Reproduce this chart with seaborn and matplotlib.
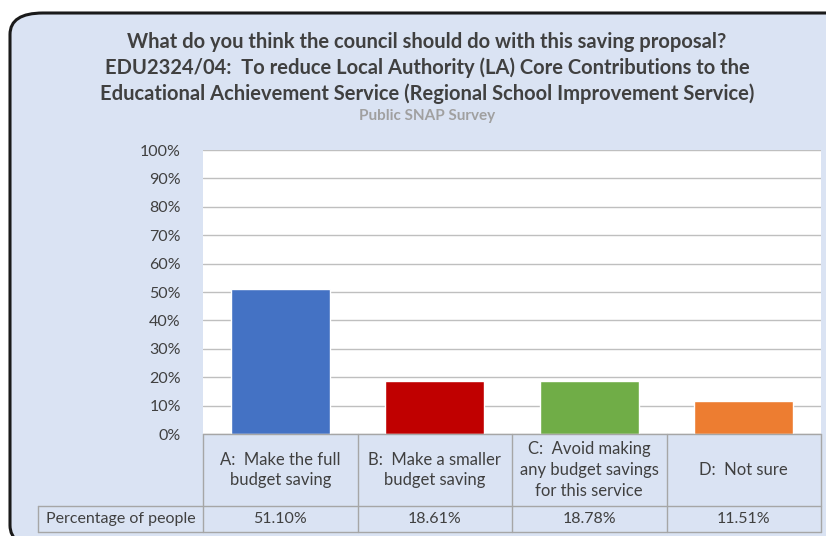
import matplotlib.pyplot as plt
import seaborn as sns
from matplotlib.patches import FancyBboxPatch
from matplotlib.lines import Line2D

plt.switch_backend('Agg')

# Chart data
categories = ["A:  Make the full\nbudget saving",
              "B:  Make a smaller\nbudget saving",
              "C:  Avoid making\nany budget savings\nfor this service",
              "D:  Not sure"]
values = [51.10, 18.61, 18.78, 11.51]
bar_colors = ['#4472C4', '#C00000', '#70AD47', '#ED7D31']
row_label = "Percentage of people"
y_ticks = [0, 10, 20, 30, 40, 50, 60, 70, 80, 90, 100]

title_lines = ("What do you think the council should do with this saving proposal?\n"
               "EDU2324/04:  To reduce Local Authority (LA) Core Contributions to the\n"
               "Educational Achievement Service (Regional School Improvement Service)")
subtitle = "Public SNAP Survey"

sns.set_theme(style="white")
plt.rcParams['font.family'] = ['Lato', 'DejaVu Sans']

W, H = 826, 536
BG = '#DAE3F3'
TXT = '#404040'
LINE = '#A6A6A6'

fig = plt.figure(figsize=(W / 100, H / 100), dpi=100)
fig.patch.set_facecolor('white')

# rounded frame, cropped on the right and bottom like the screenshot
frame = FancyBboxPatch((10 / W, -0.02), 1.05, 1 - 13 / H + 0.02,
                       boxstyle="round,pad=0,rounding_size=0.04",
                       transform=fig.transFigure, facecolor=BG,
                       edgecolor='#1a1a1a', linewidth=2.2, zorder=0)
fig.add_artist(frame)

def fx(px):
    return px / W

def fy(py):
    return 1 - py / H

# plot area
left, right, top, bottom = 203, 821, 150, 434
ax = fig.add_axes([fx(left), fy(bottom), fx(right) - fx(left), fy(top) - fy(bottom)])
ax.set_facecolor('white')

sns.barplot(x=list(range(len(values))), y=values, hue=list(range(len(values))),
            palette=bar_colors, legend=False, width=0.64, saturation=1,
            ax=ax, zorder=3)

ax.set_xlim(-0.5, len(values) - 0.5)
ax.set_ylim(0, 100)
ax.set_yticks(y_ticks)
ax.set_yticklabels([f"{t}%" for t in y_ticks], fontsize=11.5, color=TXT)
ax.tick_params(axis='y', length=0, pad=16)
ax.set_xticks([])
ax.set_xlabel('')
ax.set_ylabel('')
for t in y_ticks:
    ax.axhline(t, color='#BFBFBF', linewidth=1, zorder=1)
for s in ax.spines.values():
    s.set_visible(False)

# data table below the plot
row1_bottom, row2_bottom, table_left = 506, 532, 38
col_w = (right - left) / len(values)
line_kw = dict(color=LINE, linewidth=1, transform=fig.transFigure)
fig.add_artist(Line2D([fx(left), fx(right)], [fy(bottom), fy(bottom)], **line_kw))
fig.add_artist(Line2D([fx(table_left), fx(right)], [fy(row1_bottom), fy(row1_bottom)], **line_kw))
fig.add_artist(Line2D([fx(table_left), fx(right)], [fy(row2_bottom), fy(row2_bottom)], **line_kw))
fig.add_artist(Line2D([fx(table_left), fx(table_left)], [fy(row1_bottom), fy(row2_bottom)], **line_kw))
for i in range(len(values) + 1):
    x = left + i * col_w
    fig.add_artist(Line2D([fx(x), fx(x)], [fy(bottom), fy(row2_bottom)], **line_kw))

for i, (cat, val) in enumerate(zip(categories, values)):
    cx = fx(left + (i + 0.5) * col_w)
    fig.text(cx, fy((bottom + row1_bottom) / 2), cat, ha='center', va='center',
             fontsize=12, color=TXT, linespacing=1.35)
    fig.text(cx, fy((row1_bottom + row2_bottom) / 2), f"{val:.2f}%", ha='center',
             va='center', fontsize=11.5, color=TXT)
fig.text(fx((table_left + left) / 2), fy((row1_bottom + row2_bottom) / 2), row_label,
         ha='center', va='center', fontsize=11.5, color=TXT)

# titles
fig.text(fx(427), fy(68), title_lines, ha='center', va='center', fontsize=14.5,
         fontweight='bold', color=TXT, linespacing=1.35)
fig.text(fx(427), fy(116), subtitle, ha='center', va='center', fontsize=11,
         fontweight='bold', color='#A0A0A0')

plt.savefig('out.png', dpi=100, facecolor=fig.get_facecolor())
plt.close()
